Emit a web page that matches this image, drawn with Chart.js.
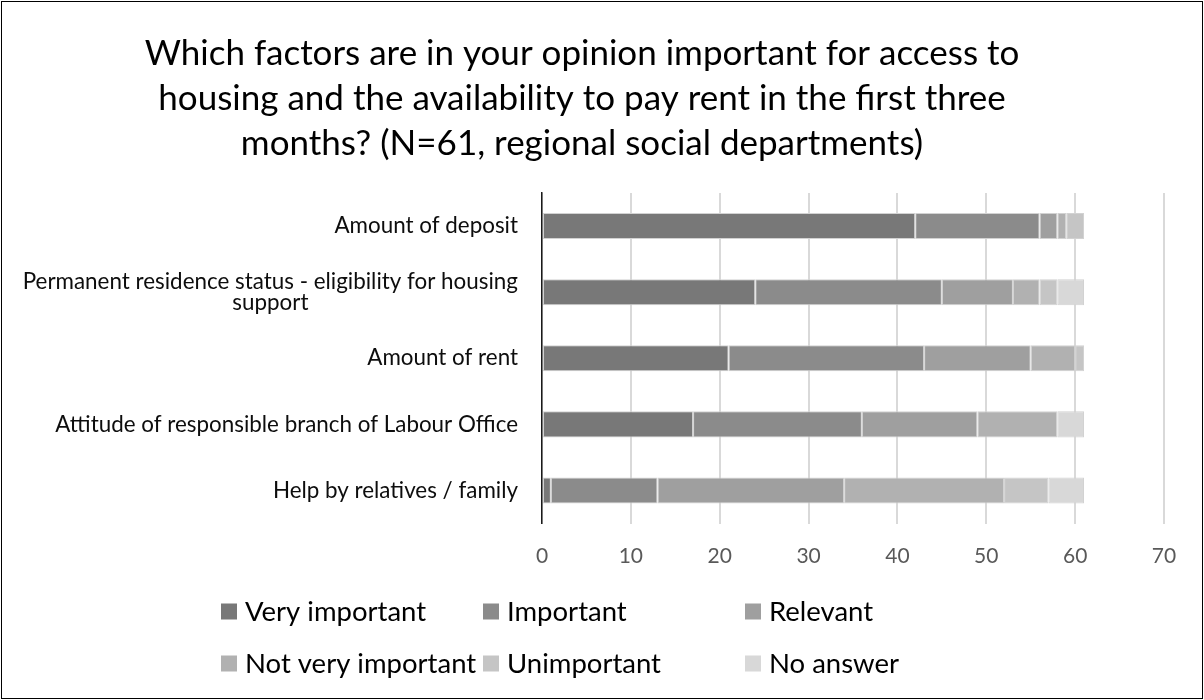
<!DOCTYPE html>
<html>
<head>
<meta charset="utf-8">
<script src="https://cdn.jsdelivr.net/npm/chart.js@4.4.1/dist/chart.umd.min.js"></script>
<style>
  html, body { margin: 0; padding: 0; background: #ffffff; }
  #wrap { width: 1204px; height: 700px; position: relative; }
</style>
</head>
<body>
<div id="wrap"><canvas id="c" width="1204" height="700"></canvas></div>
<script>
// Survey answers per factor (counts of departments, N = 61)
const categories = [
  'Amount of deposit',
  ['Permanent residence status - eligibility for housing', 'support'],
  'Amount of rent',
  'Attitude of responsible branch of Labour Office',
  'Help by relatives / family'
];
const seriesNames = ['Very important', 'Important', 'Relevant', 'Not very important', 'Unimportant', 'No answer'];
const veryImportant    = [42, 24, 21, 17, 1];
const important        = [14, 21, 22, 19, 12];
const relevant         = [2, 8, 12, 13, 21];
const notVeryImportant = [1, 3, 5, 9, 18];
const unimportant      = [2, 2, 1, 0, 5];
const noAnswer         = [0, 3, 0, 3, 4];
const xTickValues = [0, 10, 20, 30, 40, 50, 60, 70];
const titleLines = [
  'Which factors are in your opinion important for access to',
  'housing and the availability to pay rent in the first three',
  'months? (N=61, regional social departments)'
];

const seriesValues = [veryImportant, important, relevant, notVeryImportant, unimportant, noAnswer];
const seriesColors = ['#787878', '#8b8b8b', '#9f9f9f', '#b1b1b1', '#c5c5c5', '#d8d8d8'];

const FONT = 'Lato, "Open Sans", sans-serif';

// Wrapped category labels are centred line by line, the others stay right aligned
const centerWrappedLabels = {
  id: 'centerWrappedLabels',
  beforeDraw(chart) {
    const scale = chart.scales.y;
    if (!scale || !scale.getLabelItems) return;
    const items = scale.getLabelItems(chart.chartArea);
    const ctx = chart.ctx;
    items.forEach(item => {
      if (Array.isArray(item.label) && !item._centred) {
        ctx.save();
        ctx.font = item.font.string;
        const w = Math.max(...item.label.map(t => ctx.measureText(t).width));
        ctx.restore();
        item.options.textAlign = 'center';
        item.options.translation[0] -= w / 2;
        item._centred = true;
      }
    });
  }
};

// Legend laid out in a fixed three-column grid below the axis
const gridLegend = {
  id: 'gridLegend',
  afterDraw(chart) {
    const ctx = chart.ctx;
    const cols = [221, 483, 745];
    const rows = [611.5, 663.5];
    const box = 16;
    ctx.save();
    ctx.font = '27.5px ' + FONT;
    ctx.textBaseline = 'middle';
    ctx.textAlign = 'left';
    chart.data.datasets.forEach((ds, i) => {
      const x = cols[i % 3];
      const y = rows[Math.floor(i / 3)];
      ctx.fillStyle = ds.backgroundColor;
      ctx.fillRect(x, y - box / 2, box, box);
      ctx.fillStyle = '#000000';
      ctx.fillText(ds.label, x + 24, y + 1);
    });
    ctx.restore();
  }
};

// Thin frame around the whole chart
const frame = {
  id: 'frame',
  afterDraw(chart) {
    const ctx = chart.ctx;
    ctx.save();
    ctx.strokeStyle = '#000000';
    ctx.lineWidth = 1;
    ctx.strokeRect(1.5, 1.5, chart.width - 3, chart.height - 3);
    ctx.restore();
  }
};

function build() {
  new Chart(document.getElementById('c'), {
    type: 'bar',
    data: {
      labels: categories,
      datasets: seriesNames.map((name, i) => ({
        label: name,
        data: seriesValues[i],
        backgroundColor: seriesColors[i],
        borderColor: '#d2d2d2',
        borderWidth: 1,
        borderSkipped: false,
        categoryPercentage: 1,
        barPercentage: 0.394
      }))
    },
    options: {
      indexAxis: 'y',
      responsive: false,
      devicePixelRatio: 1,
      animation: false,
      layout: { padding: { top: 0, right: 40, bottom: 0, left: 0 } },
      plugins: {
        legend: { display: false },
        tooltip: { enabled: false },
        title: {
          display: true,
          text: titleLines,
          color: '#000000',
          font: { family: FONT, size: 35, weight: 'normal', lineHeight: 1.286 },
          padding: { top: 31, bottom: 27 }
        }
      },
      scales: {
        x: {
          stacked: true,
          min: 0,
          max: 70,
          afterBuildTicks: s => { s.ticks = xTickValues.map(v => ({ value: v })); },
          afterFit: s => { s.height = 176.5; s.paddingLeft = 0; s.paddingRight = 0; },
          grid: { color: '#d9d9d9', lineWidth: 2, drawTicks: false },
          border: { display: false },
          ticks: {
            color: '#595959',
            padding: 20,
            font: { family: FONT, size: 21 }
          }
        },
        y: {
          stacked: true,
          afterFit: s => { s.width = 542; },
          grid: { display: false, drawTicks: false },
          border: { display: true, color: '#1a1a1a', width: 1.5 },
          ticks: {
            color: '#0d0d0d',
            padding: 24,
            font: { family: FONT, size: 22.4, lineHeight: 0.95 }
          }
        }
      }
    },
    plugins: [centerWrappedLabels, gridLegend, frame]
  });
}

if (document.fonts && document.fonts.load) {
  Promise.all([document.fonts.load('22px Lato'), document.fonts.load('35px Lato')])
    .then(build, build);
} else {
  build();
}
</script>
</body>
</html>
